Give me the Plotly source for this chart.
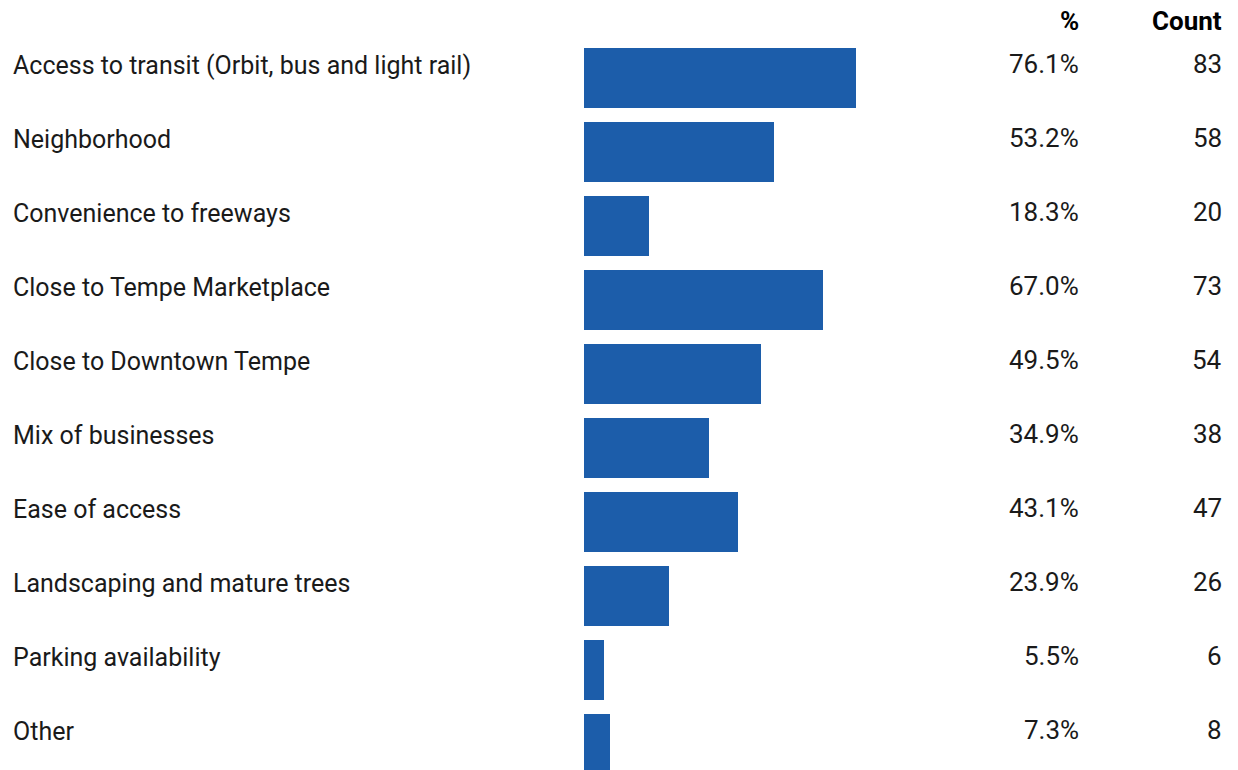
import plotly.graph_objects as go

categories = [
    "Access to transit (Orbit, bus and light rail)",
    "Neighborhood",
    "Convenience to freeways",
    "Close to Tempe Marketplace",
    "Close to Downtown Tempe",
    "Mix of businesses",
    "Ease of access",
    "Landscaping and mature trees",
    "Parking availability",
    "Other",
]
percents = [76.1, 53.2, 18.3, 67.0, 49.5, 34.9, 43.1, 23.9, 5.5, 7.3]
counts = [83, 58, 20, 73, 54, 38, 47, 26, 6, 8]
headers = ["%", "Count"]

BAR_COLOR = "#1c5daa"
TEXT_COLOR = "#1a1a1a"
FONT = "Roboto"
FS_LABEL = 25
FS_NUM = 26
FS_HDR = 26

W, H = 1238, 770
bar_x0 = 584          # pixel where bars start
px_per_unit = 272 / 76.1
row0 = 78             # pixel center of first row
pitch = 74

x_min = -bar_x0 / px_per_unit
x_max = (W - bar_x0) / px_per_unit
y_top = -row0 / pitch
y_bot = (H - row0) / pitch

def xp(px):
    return (px - bar_x0) / px_per_unit

ypos = list(range(len(categories)))

fig = go.Figure()
fig.add_trace(go.Bar(
    x=percents, y=ypos, orientation="h",
    marker=dict(color=BAR_COLOR, line=dict(width=0)),
    width=60 / pitch, hoverinfo="skip",
))

annotations = []
for i, (c, p, n) in enumerate(zip(categories, percents, counts)):
    annotations.append(dict(x=xp(11), y=i, text=c, xanchor="left", yanchor="middle",
                            yshift=13, showarrow=False,
                            font=dict(family=FONT, size=FS_LABEL, color=TEXT_COLOR)))
    annotations.append(dict(x=xp(1081), y=i, text=f"{p:.1f}%", xanchor="right", yanchor="middle",
                            yshift=14, showarrow=False,
                            font=dict(family=FONT, size=FS_NUM, color=TEXT_COLOR)))
    annotations.append(dict(x=xp(1224), y=i, text=str(n), xanchor="right", yanchor="middle",
                            yshift=14, showarrow=False,
                            font=dict(family=FONT, size=FS_NUM, color=TEXT_COLOR)))

hdr_y = (21 - row0) / pitch
for h, xpx in zip(headers, [1081, 1224]):
    annotations.append(dict(x=xp(xpx), y=hdr_y, text=f"<b>{h}</b>", xanchor="right",
                            yanchor="middle", showarrow=False,
                            font=dict(family=FONT, size=FS_HDR, color="#000000")))

fig.update_layout(
    width=W, height=H,
    margin=dict(l=0, r=0, t=0, b=0),
    paper_bgcolor="white", plot_bgcolor="white",
    showlegend=False,
    annotations=annotations,
    xaxis=dict(range=[x_min, x_max], visible=False, fixedrange=True),
    yaxis=dict(range=[y_bot, y_top], visible=False, fixedrange=True),
    bargap=0,
)

fig.write_html("out.html")
